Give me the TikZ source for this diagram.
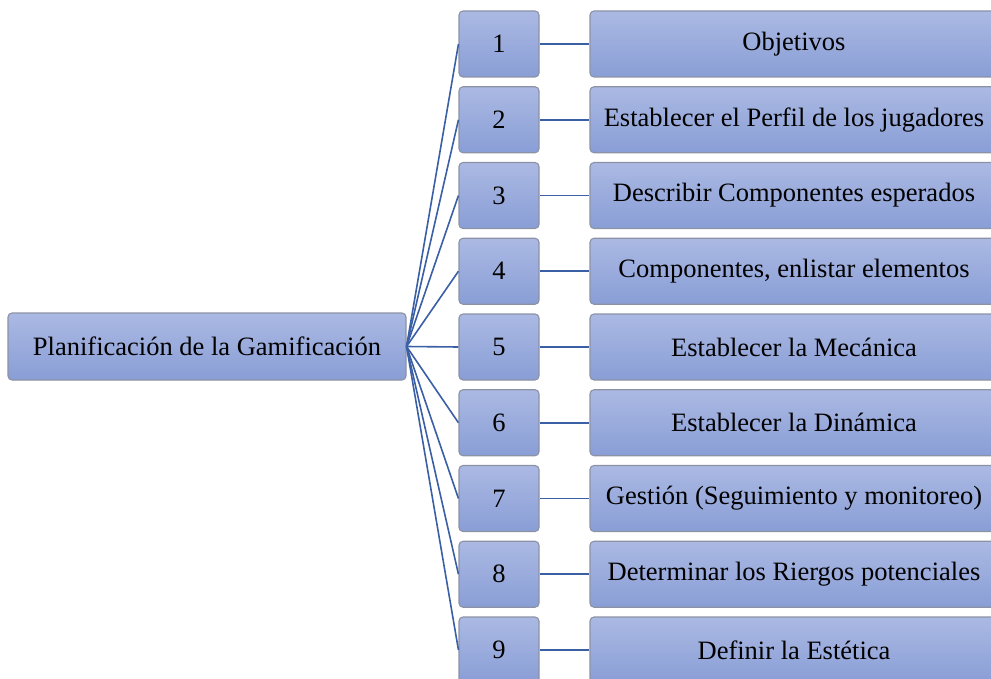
\documentclass[tikz,border=0pt]{standalone}
\usepackage{fontspec}
\setmainfont{Liberation Serif}
\definecolor{boxtop}{HTML}{ABB9E3}
\definecolor{boxbot}{HTML}{899ED6}
\definecolor{boxline}{HTML}{8C92A6}
\definecolor{conn}{HTML}{3A5FA5}
\tikzset{
  box/.style={draw=boxline, line width=1.1pt, rounded corners=4pt, top color=boxtop, bottom color=boxbot, inner sep=0pt, font=\fontsize{26.5}{30}\selectfont, text=black},
  numbox/.style={box, minimum width=80pt, minimum height=66pt},
  txtbox/.style={box, minimum width=408pt, minimum height=66pt},
  mainbox/.style={box, minimum width=398pt, minimum height=67pt},
  link/.style={draw=conn, line width=1.6pt}
}
\begin{document}
\begin{tikzpicture}[x=1pt,y=-1pt]
\useasboundingbox (0,0) rectangle (991,679);
\clip (0,0) rectangle (991,679);
\node[mainbox] (m) at (207,346.5) {Planificación de la Gamificación};
\foreach \i/\t in {1/Objetivos,2/Establecer el Perfil de los jugadores,3/Describir Componentes esperados,4/{Componentes, enlistar elementos},5/Establecer la Mecánica,6/Establecer la Dinámica,7/Gestión (Seguimiento y monitoreo),8/Determinar los Riergos potenciales,9/Definir la Estética}{
  \pgfmathsetmacro{\yy}{44+75.75*(\i-1)}
  \node[numbox] (n\i) at (499,\yy) {\i};
  \node[txtbox] (t\i) at (794,\yy) {\t};
  \draw[link] (m.east) -- (n\i.west);
  \draw[link] (n\i.east) -- (t\i.west);
}
\end{tikzpicture}
\end{document}
